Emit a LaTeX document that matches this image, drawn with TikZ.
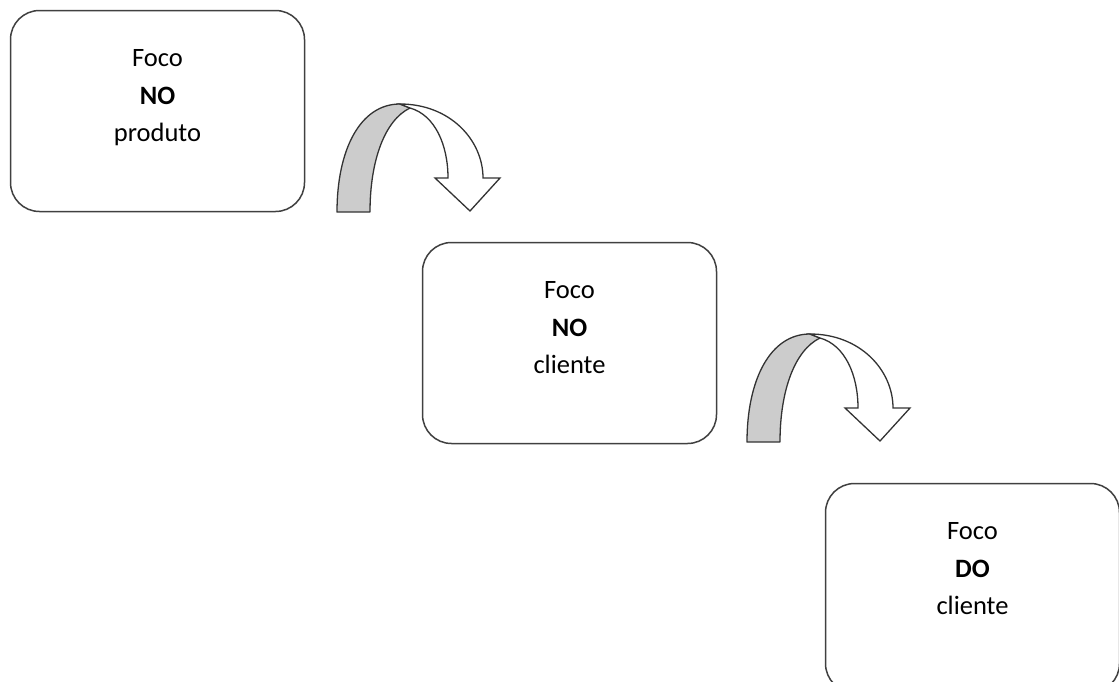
\documentclass[tikz,border=0pt]{standalone}
\usepackage{fontspec}
\setmainfont{Carlito}
\begin{document}
\begin{tikzpicture}[x=1pt,y=-1pt,
  focobox/.style={draw=black!75,line width=1.5pt,rounded corners=29pt,fill=white,
    minimum width=294pt,minimum height=201pt,inner sep=0pt},
  focotext/.style={anchor=north,align=center,inner sep=0pt,
    font=\fontsize{26.5}{37.5}\selectfont},
  back/.style={draw=black!80,line width=1.3pt,fill=black!20,line join=round},
  front/.style={draw=black!80,line width=1.3pt,fill=white,line join=miter}]
\useasboundingbox (0,0) rectangle (1119,681);
\clip (0,0) rectangle (1119,681);
\node[focobox] (b1) at (157.5,111) {};
\node[focobox] (b2) at (569.5,343) {};
\node[focobox,minimum height=209pt] (b3) at (972.5,588) {};
\node[focotext] (t1) at ([yshift=-40pt]b1.north) {Foco\\\textbf{NO}\\produto};
\node[focotext] (t2) at ([yshift=-40pt]b2.north) {Foco\\\textbf{NO}\\cliente};
\node[focotext] (t3) at ([yshift=-40pt]b3.north) {Foco\\\textbf{DO}\\cliente};
\foreach \dx/\dy in {0/0,410/230}{
\begin{scope}[shift={(\dx,\dy)}]
\path[back] (337,212) .. controls (337,150) and (360,104) .. (400,104) -- (410,108)
  .. controls (385,120) and (370,160) .. (370,212) -- cycle;
\path[front] (400,104) .. controls (450,104) and (483,140) .. (483,178) -- (500,178)
  -- (470,211) -- (435,178) -- (448,178) .. controls (448,145) and (435,115) .. (410,108) -- cycle;
\end{scope}}
\end{tikzpicture}
\end{document}
